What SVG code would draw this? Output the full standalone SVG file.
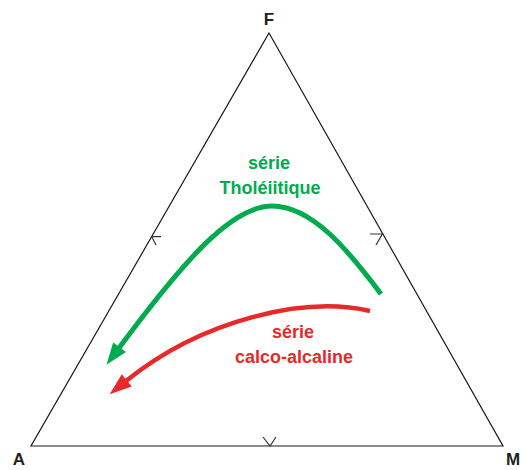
<svg xmlns="http://www.w3.org/2000/svg" width="527" height="470" viewBox="0 0 527 470">
<style>
.frame{fill:none;stroke:#1a1a1a;stroke-width:1.2;stroke-linejoin:miter}
.tick{fill:none;stroke:#333;stroke-width:1.2}
.corner{font-family:"Liberation Sans",Arial,sans-serif;font-weight:bold;font-size:17px;fill:#231f20;text-anchor:middle}
.lbl{font-family:"Liberation Sans",Arial,sans-serif;font-weight:bold;font-size:18px;text-anchor:middle}
.g{fill:#00ab4e}
.r{fill:#e8292b}
.gline{fill:none;stroke:#00ab4e;stroke-width:5}
.rline{fill:none;stroke:#e8292b;stroke-width:4.5}
</style>
<defs>
<marker id="ag" markerUnits="userSpaceOnUse" markerWidth="30" markerHeight="20" refX="1" refY="8" orient="auto" viewBox="0 0 30 20" overflow="visible">
<path d="M0,0 L22,8 L0,16 z" fill="#00ab4e"/>
</marker>
<marker id="ar" markerUnits="userSpaceOnUse" markerWidth="30" markerHeight="20" refX="1" refY="8" orient="auto" viewBox="0 0 30 20" overflow="visible">
<path d="M0,0 L22,8 L0,16 z" fill="#e8292b"/>
</marker>
</defs>
<g id="triangle">
<path class="frame" d="M269,33 L503,446 L31,446 Z"/>
<path class="tick" d="M161,236.7 L151.7,236.7 L156,245"/>
<path class="tick" d="M370,234 L382.3,234 L376,245"/>
<path class="tick" d="M263,437 L270,446 L276,437"/>
</g>
<g id="vertex-F"><text class="corner" x="269" y="25">F</text></g>
<g id="vertex-A"><text class="corner" x="19" y="465">A</text></g>
<g id="vertex-M"><text class="corner" x="513" y="465">M</text></g>
<g id="connectors">
<path id="tholeiitic" class="gline" d="M381,294 C348,250 312,206 272,206 C232,206 185,259 119,348" marker-end="url(#ag)"/>
<path id="calc-alkaline" class="rline" d="M370,311 C305,296 203,319 126,381" marker-end="url(#ar)"/>
</g>
<g id="label-tholeiitic">
<text class="lbl g" x="269" y="169">série</text>
<text class="lbl g" x="270" y="194">Tholéiitique</text>
</g>
<g id="label-calc-alkaline">
<text class="lbl r" x="293" y="338">série</text>
<text class="lbl r" x="294" y="363">calco-alcaline</text>
</g>
</svg>
